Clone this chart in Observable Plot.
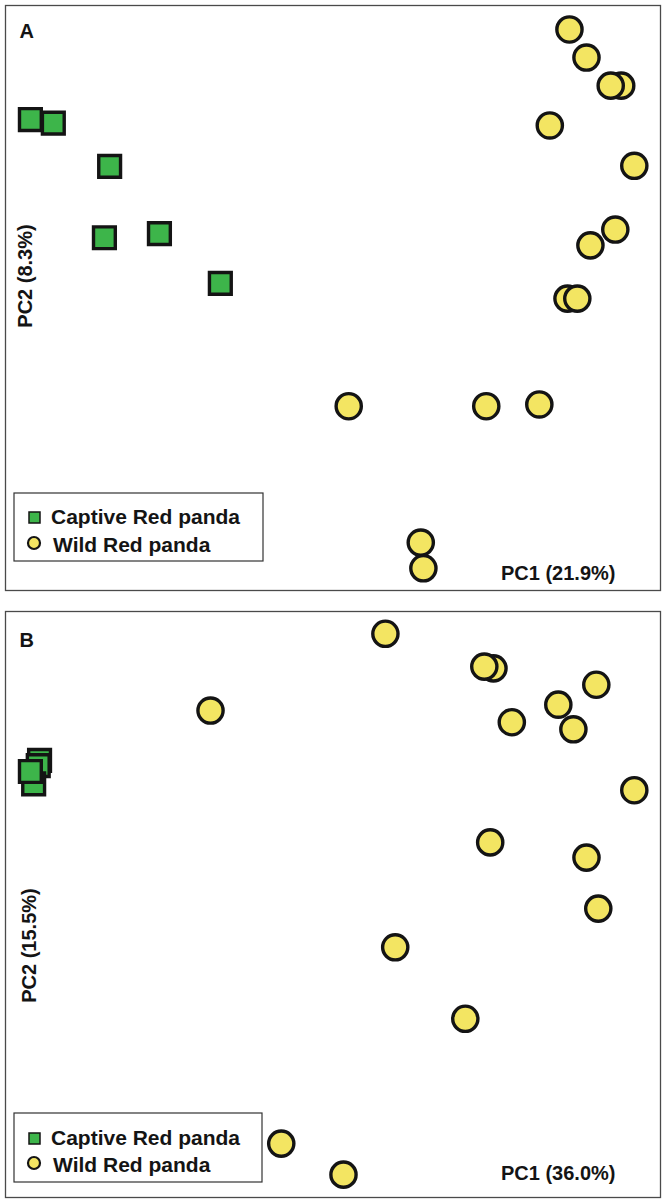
<!DOCTYPE html>
<html>
<head>
<meta charset="utf-8">
<script src="https://cdn.jsdelivr.net/npm/d3@7"></script>
<script src="https://cdn.jsdelivr.net/npm/@observablehq/plot@0.6"></script>
<style>
  html, body { margin: 0; padding: 0; background: #fff; }
  #wrap { width: 666px; }
  #wrap svg { display: block; }
</style>
</head>
<body>
<div id="wrap"></div>
<script>
// ---- Data (PC scores, arbitrary units 0-100) ----
const groups = ["Captive Red panda", "Wild Red panda"];

// Panel A
const labelA = "A";
const pc1LabelA = "PC1 (21.9%)";
const pc2LabelA = "PC2 (8.3%)";
const captiveA_pc1 = [3.8, 7.3, 15.9, 15.1, 23.5, 32.8];
const captiveA_pc2 = [80.5, 79.9, 72.5, 60.3, 61.0, 52.5];
const wildA_pc1 = [86.1, 88.7, 94.0, 92.4, 83.1, 96.0, 93.1, 89.3, 85.8, 87.3, 52.4, 73.4, 81.5, 63.4, 63.8];
const wildA_pc2 = [95.9, 91.1, 86.3, 86.3, 79.5, 72.6, 61.7, 59.0, 49.9, 49.9, 31.5, 31.5, 31.8, 8.2, 3.8];

// Panel B
const labelB = "B";
const pc1LabelB = "PC1 (36.0%)";
const pc2LabelB = "PC2 (15.5%)";
const captiveB_pc1 = [5.2, 5.0, 4.3, 3.8];
const captiveB_pc2 = [74.6, 73.7, 70.6, 72.7];
const wildB_pc1 = [58.0, 74.5, 73.1, 31.3, 90.2, 84.4, 77.3, 86.7, 96.0, 74.0, 88.7, 90.5, 59.5, 70.2, 42.1, 51.6];
const wildB_pc2 = [96.2, 90.3, 90.6, 83.1, 87.5, 84.1, 81.1, 79.9, 69.5, 60.6, 58.0, 49.3, 42.7, 30.5, 9.2, 3.9];

const GREEN = "#3db54a";
const YELLOW = "#f3e562";
const INK = "#141414";
const FONT = "'Liberation Sans', Arial, sans-serif";

function toRows(xs, ys, group) {
  return xs.map((x, i) => ({pc1: x, pc2: ys[i], group}));
}

function panel(cfg) {
  const captive = toRows(cfg.cx, cfg.cy, groups[0]);
  const wild = toRows(cfg.wx, cfg.wy, groups[1]);
  const svg = Plot.plot({
    width: 666,
    height: cfg.height,
    marginLeft: 5,
    marginRight: 6,
    marginTop: cfg.mt,
    marginBottom: cfg.mb,
    style: {fontFamily: FONT, background: "#fff"},
    x: {domain: [0, 100], axis: null},
    y: {domain: [0, 100], axis: null},
    marks: [
      Plot.frame({stroke: "#4a4a4a", strokeWidth: 1.3}),
      Plot.dot(captive, {x: "pc1", y: "pc2", symbol: "square", r: 12.3, fill: GREEN, stroke: INK, strokeWidth: 3.4}),
      Plot.dot(wild, {x: "pc1", y: "pc2", symbol: "circle", r: 12.6, fill: YELLOW, stroke: INK, strokeWidth: 3.4}),
      Plot.text([cfg.label], {frameAnchor: "top-left", textAnchor: "start", lineAnchor: "middle", dx: 14, dy: cfg.labelDy, fontSize: 20, fontWeight: "bold", fill: INK}),
      Plot.text([cfg.pc1], {frameAnchor: "bottom-right", textAnchor: "end", lineAnchor: "middle", dx: -45, dy: cfg.pc1Dy, fontSize: 20, fontWeight: "bold", fill: INK}),
      Plot.text([cfg.pc2], {frameAnchor: "left", textAnchor: "middle", lineAnchor: "middle", rotate: -90, dx: cfg.pc2Dx, dy: cfg.pc2Dy, fontSize: 20, fontWeight: "bold", fill: INK})
    ]
  });
  // legend box (inside the SVG)
  const g = d3.select(svg).append("g").attr("font-family", FONT).attr("text-anchor", "start");
  const L = cfg.legend;
  g.append("rect").attr("x", L.x).attr("y", L.y).attr("width", L.w).attr("height", L.h)
    .attr("fill", "#fff").attr("stroke", "#333").attr("stroke-width", 1.2);
  g.append("rect").attr("x", L.x + 15).attr("y", L.row1 - 12).attr("width", 11).attr("height", 11)
    .attr("fill", GREEN).attr("stroke", INK).attr("stroke-width", 1.5);
  g.append("circle").attr("cx", L.x + 20).attr("cy", L.row2 - 9).attr("r", 6)
    .attr("fill", YELLOW).attr("stroke", INK).attr("stroke-width", 2.2);
  g.append("text").attr("x", L.x + 37).attr("y", L.row1).attr("font-size", 21).attr("font-weight", "bold")
    .attr("text-anchor", "start").attr("fill", INK).text(groups[0]);
  g.append("text").attr("x", L.x + 39).attr("y", L.row2).attr("font-size", 21).attr("font-weight", "bold")
    .attr("text-anchor", "start").attr("fill", INK).text(groups[1]);
  return svg;
}

const wrap = document.getElementById("wrap");
wrap.append(panel({
  height: 600, mt: 5, mb: 10,
  cx: captiveA_pc1, cy: captiveA_pc2, wx: wildA_pc1, wy: wildA_pc2,
  label: labelA, pc1: pc1LabelA, pc2: pc2LabelA,
  labelDy: 26, pc1Dy: -17, pc2Dx: 20, pc2Dy: -22,
  legend: {x: 14, y: 493, w: 249, h: 68, row1: 524, row2: 552}
}));
wrap.append(panel({
  height: 602, mt: 11, mb: 5,
  cx: captiveB_pc1, cy: captiveB_pc2, wx: wildB_pc1, wy: wildB_pc2,
  label: labelB, pc1: pc1LabelB, pc2: pc2LabelB,
  labelDy: 29, pc1Dy: -24, pc2Dx: 24, pc2Dy: 41,
  legend: {x: 14, y: 513, w: 248, h: 69, row1: 545, row2: 572}
}));
</script>
</body>
</html>
